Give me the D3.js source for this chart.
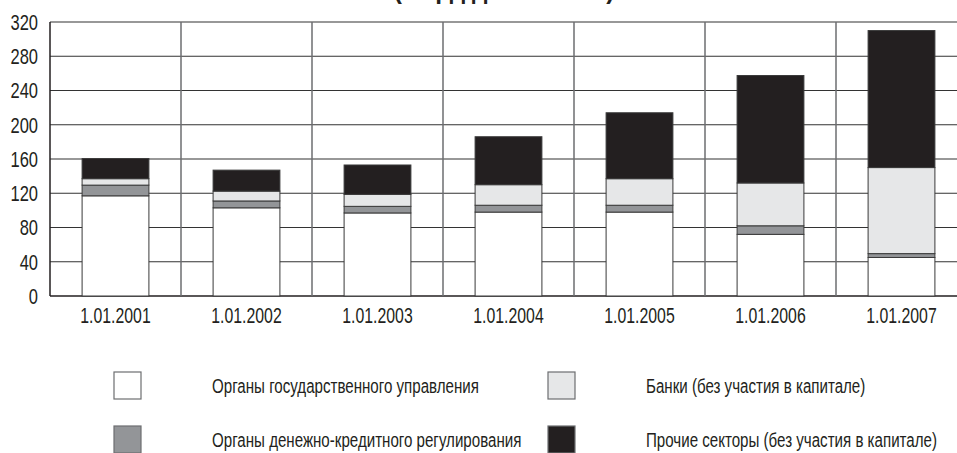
<!DOCTYPE html>
<html><head><meta charset="utf-8">
<script src="https://cdn.jsdelivr.net/npm/d3@7"></script>
<style>
html,body{margin:0;padding:0;background:#fff;overflow:hidden}
text{font-family:"Liberation Sans Narrow","Liberation Sans",Arial,sans-serif;fill:#231f20}
</style></head><body>
<svg id="c" width="957" height="453"></svg>
<script>
const categories = ["1.01.2001","1.01.2002","1.01.2003","1.01.2004","1.01.2005","1.01.2006","1.01.2007"];
const seriesNames = ["Органы государственного управления","Органы денежно-кредитного регулирования","Банки (без участия в капитале)","Прочие секторы (без участия в капитале)"];
const govt   = [117, 103, 97, 98, 98, 72, 45];
const monet  = [12.5, 8, 7.7, 8, 8, 10, 4.5];
const banks  = [7.5, 11.5, 14, 24, 31, 50, 100.5];
const others = [23.5, 24.5, 34.3, 56, 77, 125.5, 160];
const yTicks = [0,40,80,120,160,200,240,280,320];
const title = "(млрд долл. США)";
const colors = ["#ffffff","#939598","#e6e7e8","#231f20"];

const svg = d3.select("#c");
const x = d3.scaleBand().domain(categories).range([50, 967]).paddingInner(0.49).paddingOuter(0.245);
const band = d3.scaleBand().domain(categories).range([50, 967]);
const y = d3.scaleLinear().domain([0, 320]).range([296, 22]);
const SX = 0.72;

// title (cut off at top, as in the reference)
svg.append("text").attr("transform", `translate(504,-1) scale(0.94,1)`).attr("text-anchor","middle")
  .style("font-size","26px").style("font-weight","bold").text(title);

// horizontal grid
svg.append("g").selectAll("line").data(yTicks).join("line")
  .attr("x1", 50).attr("x2", 967).attr("y1", d=>y(d)).attr("y2", d=>y(d))
  .attr("stroke", d=> d===0 ? "#231f20" : "#333").attr("stroke-width", d=> d===0 ? 1.5 : 1.2);

// vertical grid at band boundaries
svg.append("g").selectAll("line").data(categories).join("line")
  .attr("x1", d=>band(d)).attr("x2", d=>band(d)).attr("y1", y(320)).attr("y2", y(0))
  .attr("stroke", (d,i)=> i===0 ? "#231f20" : "#6d6e71").attr("stroke-width", 1.5);

// stacked bars
const table = categories.map((c,i)=>({cat:c, s0:govt[i], s1:monet[i], s2:banks[i], s3:others[i]}));
const stack = d3.stack().keys(["s0","s1","s2","s3"])(table);
svg.append("g").selectAll("g").data(stack).join("g")
  .attr("fill", (d,i)=>colors[i])
  .selectAll("rect").data(d=>d).join("rect")
  .attr("x", d=>x(d.data.cat)).attr("width", x.bandwidth())
  .attr("y", d=>y(d[1])).attr("height", d=>y(d[0])-y(d[1]))
  .attr("stroke", "#3a3a3a").attr("stroke-width", 1);

// y axis labels
svg.append("g").selectAll("text").data(yTicks).join("text")
  .attr("transform", d=>`translate(38,${y(d)}) scale(0.75,1)`).attr("dy","0.36em").attr("text-anchor","end")
  .style("font-size","22px").text(d=>d);

// x axis labels
svg.append("g").selectAll("text").data(categories).join("text")
  .attr("transform", d=>`translate(${x(d)+x.bandwidth()/2},323) scale(${SX},1)`).attr("text-anchor","middle")
  .style("font-size","22px").text(d=>d);

// legend
const legPos = [[114,372],[114,426],[548,372],[548,426]];
const order = [0,1,2,3];
const lg = svg.append("g").selectAll("g").data(order).join("g")
  .attr("transform", i=>`translate(${legPos[i][0]},${legPos[i][1]})`);
lg.append("rect").attr("width",27).attr("height",27).attr("fill",i=>colors[i]).attr("stroke","#6d6e71").attr("stroke-width",1.2);
lg.append("text").attr("transform", `translate(98,13.5) scale(${SX},1)`).attr("dy","0.36em").style("font-size","21px").text(i=>seriesNames[i]);
</script>
</body></html>
